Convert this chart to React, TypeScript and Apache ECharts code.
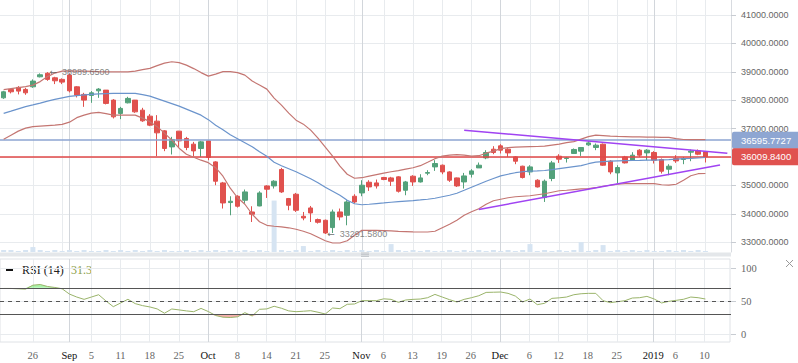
import React, { useEffect, useRef } from 'react';
import * as echarts from 'echarts';

// ---- Price data (one entry per trading bar) ----
const opens = [38085,38381,38452,38381,38473,38825,38950,38790,38734,38885,
38473,38205,38170,38332,38356,38004,37535,37909,38004,37652,
37440,37264,36922,36358,36912,36654,36454,36302,36570,35830,
35090,34399,34621,34480,34068,34279,34984,34984,35562,34540,
34692,33916,34209,33800,33775,33518,34068,33951,34621,34737,
35114,35090,35280,35266,35303,34832,35326,35125,35432,35654,
35713,35477,35266,35125,35396,35618,35971,36277,36394,36277,
36006,35678,35477,35185,34575,35245,36031,35950,36126,36207,
36429,36337,36453,35854,35442,36006,35890,36242,36147,36161,
35914,35573,35950,35914,36172,36217,36182];
const closes = [38297,38297,38321,38261,38674,38896,38734,38684,38638,38332,
38180,38004,38261,38392,37888,37416,37712,38064,37592,37275,
37123,36852,36302,36619,36570,36337,36217,36535,35985,35150,
34385,34445,34269,34773,33987,34737,34868,35150,34773,34304,
34128,33856,34033,33705,33328,34068,33892,34420,34420,35009,
34949,34984,35210,35150,34797,35125,35125,35266,35456,35773,
35477,35185,34984,35336,35513,35713,36161,36161,36242,36147,
35854,35280,35654,34949,35150,35795,35925,35971,36267,36337,
36499,36418,35713,35477,35632,35795,36066,36066,36242,35890,
35502,35678,35865,35950,36207,36101,36009.84];
const lows = [38050,38240,38205,38191,38437,38804,38684,38568,38568,38275,
38099,37768,37909,38085,37853,37359,37334,37888,37557,37240,
37088,36031,36207,36091,36358,36242,36031,36006,35890,35009,
34188,33951,34223,34364,33715,34269,34561,34892,34738,34128,
34068,33775,33715,33659,33291.58,33328,33775,33599,34364,34621,
34808,34892,35185,34984,34751,34656,34984,35104,35361,35513,
35396,35125,34949,34892,35280,35618,35925,36101,36126,36006,
35749,35245,35361,34928,34420,35150,35795,35808,36126,36041,
36394,36242,35689,35396,35069,35773,35865,36006,35890,35773,
35421,35361,35795,35749,35854,36066,35809];
const highs = [38330,38416,38497,38437,38734,38945,38989.65,38825,38769,38945,
38497,38261,38321,38427,38360,38039,37768,38120,38010,37733,
37511,37475,36947,36711,36920,36711,36534,36570,36594,35855,
35125,34621,34656,34857,34269,34797,35009,35185,35618,34561,
34738,34068,34279,33835,33800,34152,34188,34480,34692,35185,
35185,35209,35303,35303,35326,35160,35361,35396,35537,35890,
35738,35502,35280,35442,35573,35808,36242,36383,36453,36313,
36031,35696,35713,35220,35209,35865,36101,36006,36302,36337,
36559,36478,36478,35890,35713,36041,36172,36277,36277,36207,
35950,35749,36066,36006,36267,36267,36190];
const volumes = [2,2,1,2,5,2,1,2,1,2, 1,2,1,1,2,1,2,1,2,1,
2,1,2,1,1,2,1,2,1,2, 1,2,1,2,1,2,1,52,2,1,
2,6,1,2,1,2,1,2,1,2, 1,2,1,8,2,1,2,1,2,1,
1,2,1,2,1,2,1,2,1,2, 1,2,8,1,2,1,2,1,2,10,
1,2,7,1,2,1,2,1,2,1, 1,2,1,2,1,2,1];

// ---- Bollinger bands ----
const bbUpper = [38374,38409,38445,38480,38533,38656,38832,38956,39026,39033,
39026,39026,39019,39008,39001,39001,39001,39001,39026,39079,
39121,39220,39308,39354,39326,39237,39114,38973,38850,38920,
39008,39008,38973,38885,38674,38533,38392,38075,37828,37546,
37299,37158,36947,36665,36348,36031,35678,35396,35255,35273,
35326,35379,35432,35484,35520,35573,35625,35696,35819,35943,
36031,36066,36084,36066,36031,36048,36136,36207,36295,36330,
36348,36358,36365,36372,36383,36418,36454,36506,36542,36630,
36718,36771,36753,36735,36725,36718,36711,36711,36700,36700,
36693,36690,36647,36619,36612,36612,36612];
const bbMiddle = [37539,37616,37697,37775,37835,37898,37969,38029,38085,38134,
38163,38187,38208,38223,38233,38240,38240,38240,38240,38198,
38145,38057,37969,37881,37793,37687,37581,37475,37317,37123,
36965,36788,36647,36506,36365,36189,36031,35819,35696,35590,
35484,35361,35238,35097,34938,34797,34656,34480,34357,34322,
34339,34364,34385,34410,34434,34452,34469,34491,34515,34551,
34603,34656,34727,34832,34938,35044,35150,35245,35336,35396,
35449,35484,35502,35513,35527,35555,35590,35625,35661,35696,
35766,35819,35837,35854,35865,35872,35879,35883,35890,35890,
35900,35907,35925,35943,35950,35967,35985];
const bbLower = [36630,36771,36912,37017,37070,37088,37105,37123,37151,37229,
37387,37475,37546,37571,37528,37475,37475,37475,37475,37370,
37246,37070,36841,36594,36313,36101,35995,35890,35802,35625,
35326,34903,34568,34339,33987,33722,33599,33564,33546,33511,
33458,33388,33300,33176,33053,32975,32975,33053,33247,33423,
33423,33423,33412,33402,33388,33377,33366,33363,33363,33388,
33511,33634,33775,33951,34075,34181,34339,34462,34515,34568,
34603,34621,34639,34674,34709,34762,34815,34832,34857,34878,
34892,34921,34973,35009,35044,35062,35062,35062,35062,35062,
35026,35009,35044,35185,35343,35414,35421];

// ---- RSI (14) ----
const rsi = [69,69,68.5,68,74,75,72,70.5,68.5,60.5,
56,52.5,56,59.5,50,41.4,47,52.6,46,43,
41,38,31.5,37.9,36.5,35,33.8,38.8,34,28,
25.5,25,26,32.3,27.3,37.4,38,42,39,35,
33.8,34.5,35.3,33,30.3,39.4,38.4,45,45.5,50.5,
50.5,50.5,53.3,52.5,48,51.5,52.5,53,55,60,
56,52,48.5,52.5,55,58,63,63.3,63.6,61.6,
57.5,48.5,53,44.5,46.5,54,54.8,56,59.5,61,
61.6,61.6,50.5,47.5,49,50.5,54.5,55,57,53,
47,49.5,51,52.6,56,55,53];
const rsiLevels = { upper: 70, middle: 50, lower: 30 };
const rsiLegendValue = '31.3';

// ---- Reference lines, trend lines, annotations ----
const refPrice = 36595.7727;
const lastPrice = 36009.84;
const trendUpper = [[63, 36944], [99, 36136]];
const trendLower = [[65, 34156], [98, 35720]];
const extremes = [[6, 38989.65], [44, 33291.58]];

// ---- Axis ticks ----
const emptyBarsAfter = 3;
const categories = Array.from({ length: opens.length + emptyBarsAfter }, (_, i) => 'bar' + i);
const tickIndex = [4, 9, 12, 16, 20, 24, 28, 32, 36, 40, 44, 49, 52, 56, 60, 64, 68, 72, 76, 80, 84, 89, 92, 96];
const tickText = ['26','Sep','5','11','18','25','Oct','8','14','21','25','Nov','6','13','19','26','Dec','6','12','18','25','2019','6','10'];
const monthIndex = [9, 28, 49, 68, 89];
const gridIndex = [4,8,12,16,20,24,28,32,36,40,44,48,52,56,60,64,68,72,76,80,84,88,92,96];
const priceMin = 33000, priceMax = 41000, priceStep = 1000;
const hiddenPriceLabels = [36000]; // covered by the last-price tag in the reference

const tickSet = new Set(tickIndex);
const monthSet = new Set(monthIndex);
const gridSet = new Set(gridIndex);
const tickLabel = new Map(tickIndex.map((ix, k) => [ix, tickText[k]]));

const UP = '#53a17a';
const DOWN = '#e0514e';
const LIGHT = '#e8ebee';
const MONTH = '#d2d6db';
const SANS = 'Liberation Sans';
const SERIF = 'Liberation Serif';

const hiddenCat = (gridIdx: number, extra: any = {}) => ({
  type: 'category',
  gridIndex: gridIdx,
  data: categories,
  boundaryGap: true,
  axisLine: { show: false },
  axisTick: { show: false },
  axisLabel: { show: false },
  splitLine: { show: false },
  ...extra,
});

const splitAt = (set: Set<number>, color: string) => ({
  show: true,
  alignWithLabel: true,
  interval: (i: number) => set.has(i),
  lineStyle: { color, width: 1 },
});

const option: any = {
  animation: false,
  backgroundColor: '#ffffff',
  grid: [
    { left: 0, right: 67, top: 0, height: 252, outerBoundsMode: 'none' },
    { left: 0, right: 67, top: 15, height: 227.3, outerBoundsMode: 'none' },
    { left: 0, right: 68, top: 259, height: 83, show: true, borderColor: '#dfe2e6', borderWidth: 1, backgroundColor: 'transparent', outerBoundsMode: 'none' },
    { left: 0, right: 67, top: 268, height: 66, outerBoundsMode: 'none' },
  ],
  xAxis: [
    hiddenCat(0, { splitLine: splitAt(gridSet, LIGHT) }),
    hiddenCat(0, { splitLine: splitAt(monthSet, MONTH) }),
    hiddenCat(1),
    hiddenCat(2, {
      splitLine: splitAt(tickSet, LIGHT),
      axisLabel: {
        show: true,
        interval: (i: number) => tickSet.has(i),
        margin: 8,
        formatter: (_v: string, i: number) => {
          const t = tickLabel.get(i) || '';
          return monthSet.has(i) ? '{m|' + t + '}' : '{d|' + t + '}';
        },
        rich: {
          m: { color: '#111111', fontFamily: SERIF, fontSize: 10.5 },
          d: { color: '#666666', fontFamily: SERIF, fontSize: 10.5 },
        },
      },
    }),
    hiddenCat(2, { splitLine: splitAt(monthSet, MONTH) }),
    hiddenCat(3),
  ],
  yAxis: [
    {
      type: 'value', gridIndex: 0, position: 'right', min: 0, max: (e: any) => e.max * 4.9,
      axisLine: { show: true, lineStyle: { color: '#d8dbe0' } },
      axisTick: { show: false }, axisLabel: { show: false }, splitLine: { show: false },
    },
    {
      type: 'value', gridIndex: 1, position: 'right', min: priceMin, max: priceMax, interval: priceStep,
      axisLine: { show: false },
      axisTick: { show: true, length: 5, lineStyle: { color: '#c8ccd2' } },
      axisLabel: {
        color: '#666666', fontSize: 9, fontFamily: SANS, margin: 10,
        formatter: (v: number) => (hiddenPriceLabels.includes(v) ? '' : v.toFixed(4)),
      },
      splitLine: { show: true, lineStyle: { color: LIGHT } },
    },
    {
      type: 'value', gridIndex: 2, position: 'right', min: 0, max: 1,
      axisLine: { show: false }, axisTick: { show: false }, axisLabel: { show: false }, splitLine: { show: false },
    },
    {
      type: 'value', gridIndex: 3, position: 'right', min: 0, max: 100, interval: 50,
      axisLine: { show: false },
      axisTick: { show: true, length: 5, lineStyle: { color: '#c8ccd2' } },
      axisLabel: { color: '#666666', fontSize: 10.5, fontFamily: SERIF, margin: 10 },
      splitLine: { show: true, lineStyle: { color: LIGHT } },
    },
  ],
  series: [
    {
      name: 'Volume', type: 'bar', xAxisIndex: 0, yAxisIndex: 0, data: volumes,
      barWidth: 5, itemStyle: { color: '#d6e4f2' }, silent: true, z: 1,
    },
    {
      name: 'Price', type: 'candlestick', xAxisIndex: 2, yAxisIndex: 1,
      data: opens.map((o, i) => [o, closes[i], lows[i], highs[i]]),
      barWidth: 5, z: 3, clip: false,
      itemStyle: { color: UP, color0: DOWN, borderColor: UP, borderColor0: DOWN, borderWidth: 1 },
      markLine: {
        silent: true, symbol: ['none', 'none'], z: 4,
        data: [
          {
            yAxis: refPrice,
            lineStyle: { color: '#8ca5d2', width: 1.6, type: 'solid' },
            label: {
              show: true, position: 'end', distance: 1, formatter: () => refPrice.toFixed(4),
              backgroundColor: '#8ea6d2', color: '#ffffff', fontSize: 9.5, fontFamily: SANS,
              padding: [3, 10, 3, 9], lineHeight: 11, borderRadius: 2,
            },
          },
          {
            yAxis: lastPrice,
            lineStyle: { color: '#e04747', width: 1.6, type: 'solid' },
            label: {
              show: true, position: 'end', distance: 1, formatter: () => lastPrice.toFixed(4),
              backgroundColor: '#e0524f', color: '#ffffff', fontSize: 9.5, fontFamily: SANS,
              padding: [3, 10, 3, 9], lineHeight: 11, borderRadius: 2,
            },
          },
        ],
      },
    },
    {
      name: 'BB Upper', type: 'line', xAxisIndex: 2, yAxisIndex: 1, data: bbUpper,
      symbol: 'none', clip: false, z: 5, lineStyle: { color: '#c47672', width: 1.2 },
    },
    {
      name: 'BB Middle', type: 'line', xAxisIndex: 2, yAxisIndex: 1, data: bbMiddle,
      symbol: 'none', clip: false, z: 5, lineStyle: { color: '#6b94cc', width: 1.2 },
    },
    {
      name: 'BB Lower', type: 'line', xAxisIndex: 2, yAxisIndex: 1, data: bbLower,
      symbol: 'none', clip: false, z: 5, lineStyle: { color: '#c47672', width: 1.2 },
    },
    {
      name: 'Trend Upper', type: 'line', xAxisIndex: 2, yAxisIndex: 1, data: trendUpper,
      symbol: 'none', clip: false, z: 6, lineStyle: { color: '#a043f2', width: 1.5 },
    },
    {
      name: 'Trend Lower', type: 'line', xAxisIndex: 2, yAxisIndex: 1, data: trendLower,
      symbol: 'none', clip: false, z: 6, lineStyle: { color: '#a043f2', width: 1.5 },
    },
    {
      name: 'Extremes', type: 'scatter', xAxisIndex: 2, yAxisIndex: 1, data: extremes,
      symbolSize: 0, z: 7, silent: true,
      label: {
        show: true, position: 'right', distance: 2, color: '#666666', fontSize: 9, fontFamily: SANS,
        formatter: (p: any) => '{a|\u2190}  ' + p.value[1].toFixed(4),
        rich: { a: { fontFamily: 'DejaVu Sans', fontSize: 9, color: '#444444' } },
      },
    },
    {
      name: 'RSI hi', type: 'line', xAxisIndex: 5, yAxisIndex: 3,
      data: rsi.map((v) => Math.max(v, rsiLevels.upper)),
      symbol: 'none', lineStyle: { width: 0, opacity: 0 }, clip: false,
      areaStyle: { origin: rsiLevels.upper, color: 'rgba(110, 235, 110, 0.85)' }, z: 2,
    },
    {
      name: 'RSI lo', type: 'line', xAxisIndex: 5, yAxisIndex: 3,
      data: rsi.map((v) => Math.min(v, rsiLevels.lower)),
      symbol: 'none', lineStyle: { width: 0, opacity: 0 }, clip: false,
      areaStyle: { origin: rsiLevels.lower, color: 'rgba(242, 130, 125, 0.9)' }, z: 2,
    },
    {
      name: 'RSI', type: 'line', xAxisIndex: 5, yAxisIndex: 3, data: rsi,
      symbol: 'none', clip: false, z: 4, lineStyle: { color: '#9ab46a', width: 1 },
      markLine: {
        silent: true, symbol: ['none', 'none'],
        label: { show: false },
        lineStyle: { color: '#555555', width: 1, type: 'solid' },
        data: [
          { yAxis: rsiLevels.upper },
          { yAxis: rsiLevels.middle, lineStyle: { type: [4, 4], color: '#555555', width: 1 } },
          { yAxis: rsiLevels.lower },
        ],
      },
    },
  ],
  graphic: [
    { type: 'rect', shape: { x: 0, y: 252.5, width: 731, height: 4 }, style: { fill: '#e4e7ea' }, silent: true },
    { type: 'line', shape: { x1: 361, y1: 253, x2: 369, y2: 253 }, style: { stroke: '#b5b9be', lineWidth: 0.8 } },
    { type: 'line', shape: { x1: 361, y1: 254.7, x2: 369, y2: 254.7 }, style: { stroke: '#b5b9be', lineWidth: 0.8 } },
    { type: 'line', shape: { x1: 361, y1: 256.4, x2: 369, y2: 256.4 }, style: { stroke: '#b5b9be', lineWidth: 0.8 } },
    { type: 'rect', shape: { x: 6, y: 269, width: 7, height: 2 }, style: { fill: '#111111' } },
    {
      type: 'text', x: 22, y: 270,
      style: { text: 'RSI (14)', fill: '#222222', fontSize: 12, fontFamily: SERIF, verticalAlign: 'middle' },
    },
    {
      type: 'text', x: 71, y: 270,
      style: { text: rsiLegendValue, fill: '#8a9c45', fontSize: 12, fontFamily: SERIF, verticalAlign: 'middle' },
    },
    { type: 'line', shape: { x1: 786, y1: 260, x2: 793, y2: 267 }, style: { stroke: '#9a9a9a', lineWidth: 1 } },
    { type: 'line', shape: { x1: 786, y1: 267, x2: 793, y2: 260 }, style: { stroke: '#9a9a9a', lineWidth: 1 } },
  ],
};

export default function App() {
  const ref = useRef<HTMLDivElement>(null);
  useEffect(() => {
    document.body.style.margin = '0';
    const chart = echarts.init(ref.current as HTMLDivElement, null, { renderer: 'svg' });
    chart.setOption(option);
    return () => chart.dispose();
  }, []);
  return <div ref={ref} style={{ width: 798, height: 363, background: '#ffffff' }} />;
}
